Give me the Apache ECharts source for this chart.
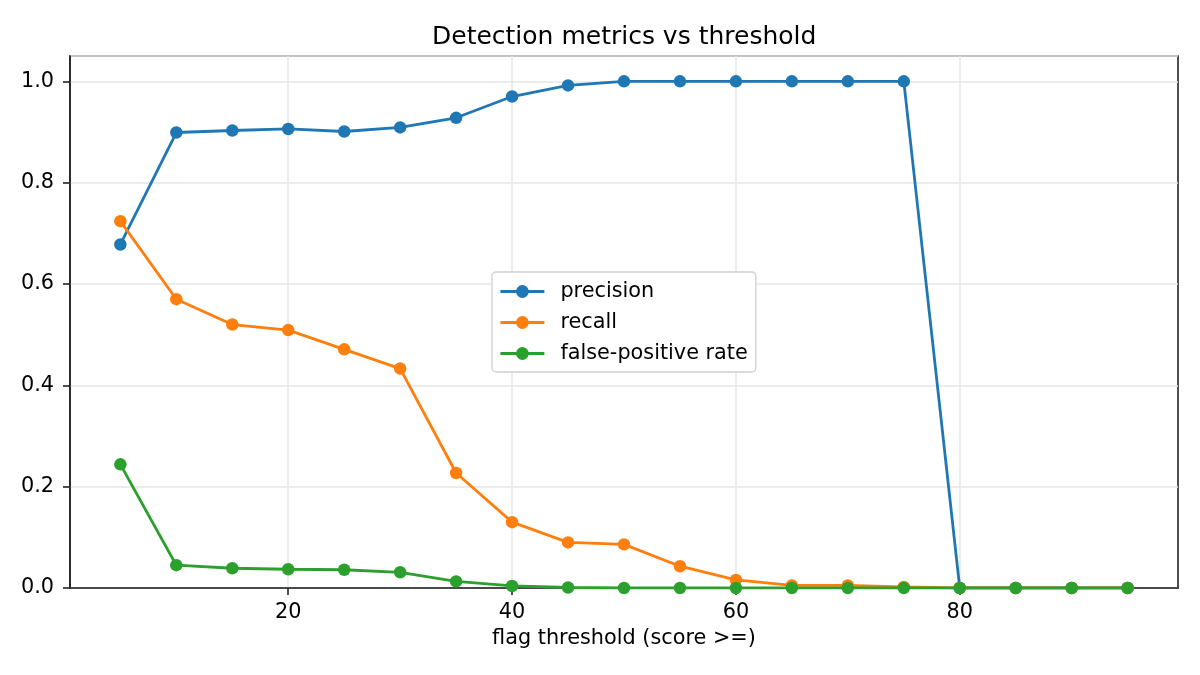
<!DOCTYPE html>
<html>
<head>
<meta charset="utf-8">
<script src="https://cdn.jsdelivr.net/npm/echarts@6/dist/echarts.min.js"></script>
<style>html,body{margin:0;padding:0;background:#fff}#c{width:1200px;height:675px}</style>
</head>
<body>
<div id="c"></div>
<script>
const thresholds = [5,10,15,20,25,30,35,40,45,50,55,60,65,70,75,80,85,90,95];
const precision = [0.678,0.899,0.903,0.906,0.901,0.909,0.928,0.970,0.992,1.0,1.0,1.0,1.0,1.0,1.0,0,0,0,0];
const recall = [0.724,0.570,0.520,0.509,0.471,0.433,0.227,0.130,0.090,0.086,0.043,0.016,0.005,0.005,0.002,0,0,0,0];
const fpr = [0.244,0.045,0.039,0.037,0.036,0.031,0.013,0.004,0.001,0,0,0,0,0,0,0,0,0,0];
const xTicks = [20,40,60,80];
const seriesNames = ['precision','recall','false-positive rate'];
const colors = ['#1f77b4','#ff7f0e','#2ca02c'];
const font = 'DejaVu Sans';

function pairs(ys){ return thresholds.map((x,i)=>[x,ys[i]]); }
const allData = [precision, recall, fpr];

const chart = echarts.init(document.getElementById('c'));
chart.setOption({
  animation: false,
  backgroundColor: '#fff',
  title: {
    text: 'Detection metrics vs threshold',
    left: 432, top: 25, padding: 0,
    textStyle: {fontFamily: font, fontSize: 25, fontWeight: 'normal', color: '#000'}
  },
  grid: {left: 70, right: 22, top: 56, bottom: 87, show: true, borderColor: '#222', borderWidth: 1.6, containLabel: false},
  legend: {
    orient: 'vertical', left: 492, top: 272,
    data: seriesNames,
    itemWidth: 44, itemHeight: 16, itemGap: 10,
    padding: [9, 8, 8, 7],
    backgroundColor: '#fff', borderColor: '#d0d0d0', borderWidth: 1.3, borderRadius: 4,
    itemStyle: {borderWidth: 0},
    lineStyle: {width: 2.8},
    textStyle: {fontFamily: font, fontSize: 20.8, color: '#000', padding: [0,0,0,11]}
  },
  xAxis: {
    type: 'value', min: 0.5, max: 99.5,
    name: 'flag threshold (score >=)', nameLocation: 'middle', nameGap: 39,
    nameTextStyle: {fontFamily: font, fontSize: 20.8, color: '#000'},
    axisLine: {show: true, onZero: false, lineStyle: {color: '#222', width: 1.6}},
    axisTick: {show: true, length: 7, customValues: xTicks, lineStyle: {color: '#222', width: 1.6}},
    axisLabel: {customValues: xTicks, fontFamily: font, fontSize: 20.8, color: '#000', margin: 14},
    splitLine: {show: true, lineStyle: {color: '#e6e6e6', width: 1.5}}
  },
  yAxis: {
    type: 'value', min: 0, max: 1.05, interval: 0.2,
    axisLine: {show: true, lineStyle: {color: '#222', width: 1.6}},
    axisTick: {show: true, length: 7, lineStyle: {color: '#222', width: 1.6}},
    axisLabel: {fontFamily: font, fontSize: 20.8, color: '#000', margin: 16, showMaxLabel: false,
      formatter: v => v.toFixed(1)},
    splitLine: {show: true, lineStyle: {color: '#e6e6e6', width: 1.5}}
  },
  series: seriesNames.map((n,i)=>({
    name: n, type: 'line', data: pairs(allData[i]),
    color: colors[i],
    symbol: 'circle', symbolSize: 12.5, showAllSymbol: true,
    lineStyle: {width: 2.8, color: colors[i]},
    itemStyle: {color: colors[i]},
    z: 2 + i
  }))
});
</script>
</body>
</html>
